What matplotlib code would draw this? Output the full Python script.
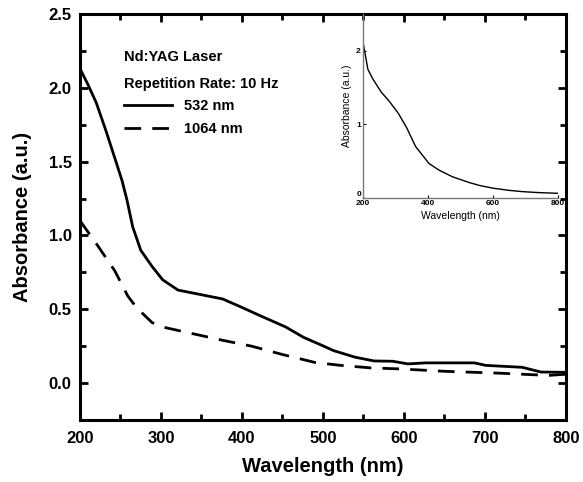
import matplotlib
matplotlib.use("Agg")
import matplotlib.pyplot as plt
from matplotlib.ticker import MultipleLocator, FormatStrFormatter

plt.rcParams['font.family'] = ['Liberation Sans', 'DejaVu Sans']

# 532 nm (solid) absorbance
wl_532 = [200, 210, 220, 232, 245, 252, 258, 265, 275, 289, 302, 321, 344,
          376, 399, 421, 454, 476, 499, 513, 540, 563, 586, 605, 627, 687,
          701, 746, 769, 800]
abs_532 = [2.13, 2.02, 1.90, 1.71, 1.49, 1.37, 1.24, 1.06, 0.90, 0.79, 0.70,
           0.63, 0.605, 0.57, 0.515, 0.46, 0.38, 0.31, 0.255, 0.22, 0.175,
           0.15, 0.148, 0.13, 0.137, 0.137, 0.12, 0.107, 0.075, 0.073]

# 1064 nm (dashed)
wl_1064 = [200, 222, 243, 259, 270, 289, 302, 339, 376, 412, 449, 490, 522,
           559, 595, 650, 719, 778, 800]
abs_1064 = [1.10, 0.93, 0.76, 0.59, 0.51, 0.41, 0.38, 0.335, 0.29, 0.25, 0.195,
            0.14, 0.12, 0.103, 0.096, 0.08, 0.067, 0.052, 0.06]

# inset curve
wl_inset = [200, 207, 215, 230, 256, 280, 309, 335, 362, 380, 403, 434, 475,
            528, 560, 600, 650, 690, 740, 800]
abs_inset = [2.12, 1.95, 1.75, 1.62, 1.44, 1.32, 1.15, 0.95, 0.70, 0.60, 0.47,
             0.38, 0.29, 0.21, 0.17, 0.135, 0.105, 0.088, 0.075, 0.065]

fig = plt.figure(figsize=(5.83, 4.82), dpi=100)
ax = fig.add_axes([0.1372, 0.1286, 0.8336, 0.8424])

ax.plot(wl_532, abs_532, color='black', lw=2.0, label='532 nm')
ax.plot(wl_1064, abs_1064, color='black', lw=2.0, dashes=(6, 4), label='1064 nm')

ax.set_xlim(200, 800)
ax.set_ylim(-0.25, 2.5)
ax.xaxis.set_major_locator(MultipleLocator(100))
ax.xaxis.set_minor_locator(MultipleLocator(50))
ax.yaxis.set_major_locator(MultipleLocator(0.5))
ax.yaxis.set_minor_locator(MultipleLocator(0.25))
ax.yaxis.set_major_formatter(FormatStrFormatter('%.1f'))
ax.tick_params(which='both', direction='in', top=True, right=True, width=2)
ax.tick_params(which='major', length=6, labelsize=12)
ax.tick_params(axis='x', which='major', pad=8)
ax.tick_params(axis='y', which='major', pad=6)
ax.tick_params(which='minor', length=4)
for lab in ax.get_xticklabels() + ax.get_yticklabels():
    lab.set_fontweight('bold')
for s in ax.spines.values():
    s.set_linewidth(2.2)

ax.set_xlabel('Wavelength (nm)', fontsize=14.5, fontweight='bold', labelpad=8)
ax.set_ylabel('Absorbance (a.u.)', fontsize=14.5, fontweight='bold', labelpad=12)

ax.text(0.0905, 0.894, 'Nd:YAG Laser', transform=ax.transAxes,
        fontsize=10.5, fontweight='bold', va='center')
ax.text(0.0905, 0.828, 'Repetition Rate: 10 Hz', transform=ax.transAxes,
        fontsize=10.5, fontweight='bold', va='center')
ax.legend(loc='upper left', bbox_to_anchor=(0.0905, 0.79), frameon=False,
          borderpad=0, borderaxespad=0, handlelength=3.3, handletextpad=0.8,
          labelspacing=0.6, prop={'size': 10.5, 'weight': 'bold'})

# inset
ins = fig.add_axes([0.6226, 0.589, 0.3344, 0.382])
ins.patch.set_alpha(0)
ins.plot(wl_inset, abs_inset, color='black', lw=1.0)
ins.set_xlim(200, 800)
ins.set_ylim(0, 2.5)
ins.spines['top'].set_visible(False)
ins.spines['right'].set_visible(False)
for s in ('left', 'bottom'):
    ins.spines[s].set_color('#777777')
    ins.spines[s].set_linewidth(1.0)
ins.set_xticks([200, 400, 600, 800])
ins.set_yticks([0, 1, 2])
ins.tick_params(direction='in', length=2, width=0.8, labelsize=6, pad=1.5)
for lab in ins.get_xticklabels() + ins.get_yticklabels():
    lab.set_fontweight('bold')
ins.get_yticklabels()[0].set_va('bottom')
ins.set_xlabel('Wavelength (nm)', fontsize=7.5, labelpad=3)
ins.set_ylabel('Absorbance (a.u.)', fontsize=7.5, labelpad=3)

fig.savefig('out.png', dpi=100)
